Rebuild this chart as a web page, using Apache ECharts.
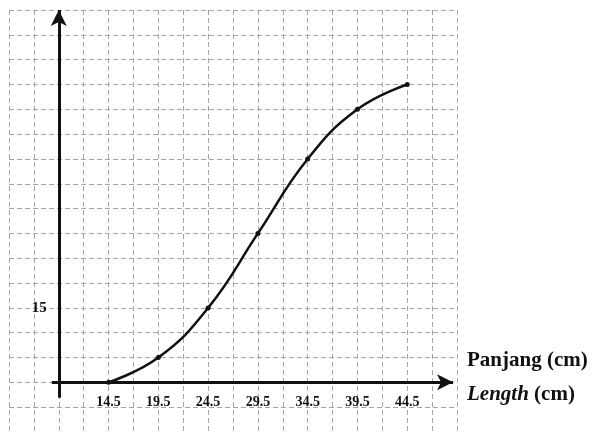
<!DOCTYPE html>
<html>
<head>
<meta charset="utf-8">
<script src="https://cdn.jsdelivr.net/npm/echarts@6/dist/echarts.min.js"></script>
<style>
  html, body { margin: 0; padding: 0; background: #fff; }
  #chart { width: 598px; height: 432px; }
</style>
</head>
<body>
<div id="chart"></div>
<script>
// ogive data
const lengths = [14.5, 19.5, 24.5, 29.5, 34.5, 39.5, 44.5];
const cumFreq = [0, 5, 15, 30, 45, 55, 60];
const xTickLabels = [14.5, 19.5, 24.5, 29.5, 34.5, 39.5, 44.5];
const yTickLabels = [15];
const xNameMs = 'Panjang (cm)';
const xNameEn = 'Length';

// paper extent (data units) and drawn axes
const X_MIN = 4.5, X_MAX = 49.5;
const Y_MIN = -10, Y_MAX = 75;
const ORIGIN_X = 9.5;

const chart = echarts.init(document.getElementById('chart'));

const serif = '"Liberation Serif", "DejaVu Serif", serif';
const gridLine = { show: true, lineStyle: { color: '#aaa2aa', width: 1, type: [5, 3] } };

const option = {
  backgroundColor: '#fff',
  animation: false,
  grid: { left: 9, right: 141, top: 10, bottom: 0 },
  xAxis: [
    {
      // graph paper columns, one every 2.5 cm
      type: 'value', min: 0, max: X_MAX - X_MIN, interval: 2.5,
      position: 'bottom',
      axisLine: { show: false }, axisTick: { show: false }, axisLabel: { show: false },
      splitLine: gridLine
    },
    {
      type: 'value', min: X_MIN, max: X_MAX,
      position: 'bottom',
      offset: -49.6,
      axisLine: { show: false }, axisTick: { show: false },
      splitLine: { show: false },
      axisLabel: {
        customValues: xTickLabels,
        formatter: v => v.toFixed(1),
        margin: 13,
        fontFamily: serif, fontWeight: 'bold', fontSize: 14, color: '#111'
      }
    }
  ],
  yAxis: {
    type: 'value', min: Y_MIN, max: Y_MAX, interval: 5,
    offset: -49.8,
    axisLine: { show: false }, axisTick: { show: false },
    splitLine: gridLine,
    axisLabel: {
      customValues: yTickLabels,
      margin: 12,
      fontFamily: serif, fontWeight: 'bold', fontSize: 15, color: '#111'
    }
  },
  series: [{
    type: 'line',
    xAxisIndex: 1,
    data: lengths.map((x, i) => [x, cumFreq[i]]),
    smooth: 0.45,
    symbol: 'circle',
    symbolSize: 5,
    lineStyle: { color: '#111', width: 2.5 },
    itemStyle: { color: '#111' },
    z: 5,
    markLine: {
      silent: true,
      symbol: ['none', 'arrow'],
      symbolSize: [12, 16],
      label: { show: false },
      lineStyle: { color: '#111', width: 3, type: 'solid' },
      data: [
        [{ coord: [8.8, 0] }, { coord: [49.1, 0] }],
        [{ coord: [ORIGIN_X, -3.1] }, { coord: [ORIGIN_X, 75] }]
      ]
    }
  }],
  graphic: [
    {
      type: 'text', left: 467, top: 350,
      style: { text: xNameMs, font: 'bold 21px ' + serif, fill: '#111' }
    },
    {
      type: 'text', left: 467, top: 384,
      style: {
        text: '{i|' + xNameEn + '} (cm)',
        font: 'bold 21px ' + serif, fill: '#111',
        rich: { i: { fontStyle: 'italic', fontWeight: 'bold', fontSize: 21, fontFamily: serif, fill: '#111' } }
      }
    }
  ]
};

chart.setOption(option);
</script>
</body>
</html>
